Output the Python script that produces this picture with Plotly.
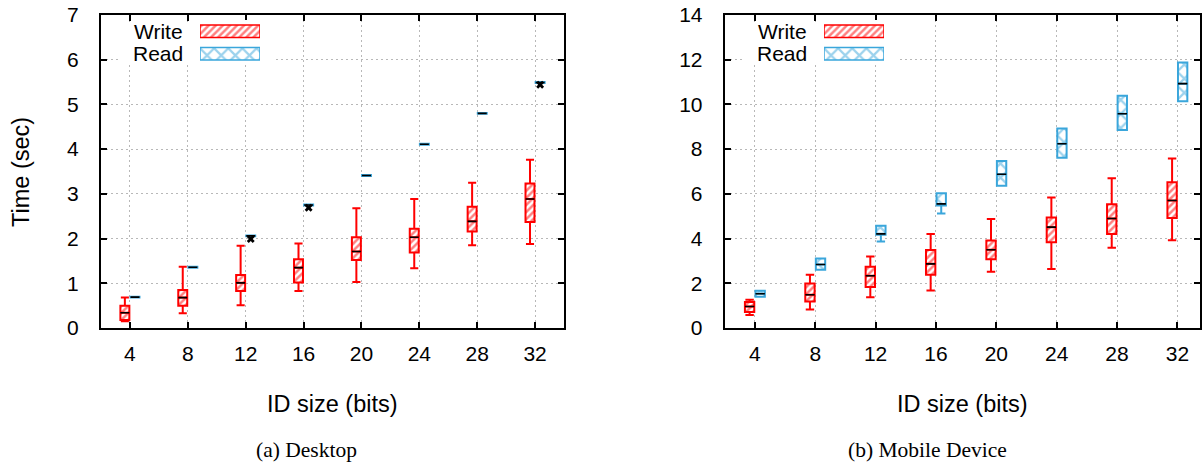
import plotly.graph_objects as go

# ---------------- data ----------------
ID_SIZES = [4, 8, 12, 16, 20, 24, 28, 32]

# (a) Desktop
DESK_WRITE_LO = [0.15, 0.33, 0.51, 0.83, 1.03, 1.335, 1.85, 1.88]
DESK_WRITE_Q1 = [0.18, 0.50, 0.83, 1.02, 1.52, 1.69, 2.16, 2.37]
DESK_WRITE_MED = [0.34, 0.68, 1.01, 1.35, 1.71, 2.03, 2.385, 2.885]
DESK_WRITE_Q3 = [0.50, 0.85, 1.185, 1.54, 2.03, 2.22, 2.71, 3.23]
DESK_WRITE_HI = [0.68, 1.37, 1.84, 1.89, 2.68, 2.885, 3.25, 3.76]

DESK_READ_Q1 = [0.68, 1.35, 2.05, 2.74, 3.40, 4.10, 4.79, 5.48]
DESK_READ_MED = [0.69, 1.36, 2.06, 2.75, 3.41, 4.11, 4.80, 5.49]
DESK_READ_Q3 = [0.70, 1.37, 2.07, 2.76, 3.42, 4.12, 4.81, 5.50]
DESK_READ_OUT_X = [12, 16, 32]
DESK_READ_OUT_Y = [1.99, 2.69, 5.44]

# (b) Mobile Device
MOB_WRITE_LO = [0.58, 0.83, 1.37, 1.68, 2.52, 2.64, 3.59, 3.93]
MOB_WRITE_Q1 = [0.715, 1.19, 1.83, 2.38, 3.08, 3.84, 4.20, 4.92]
MOB_WRITE_MED = [0.965, 1.49, 2.34, 2.87, 3.50, 4.51, 4.90, 5.70]
MOB_WRITE_Q3 = [1.16, 1.99, 2.74, 3.49, 3.91, 4.94, 5.54, 6.52]
MOB_WRITE_HI = [1.26, 2.38, 3.20, 4.21, 4.87, 5.84, 6.70, 7.58]

MOB_READ_LO = [1.40, 2.60, 3.87, 5.12, 6.36, 7.62, 8.86, 10.14]
MOB_READ_Q1 = [1.40, 2.60, 4.17, 5.48, 6.36, 7.62, 8.86, 10.14]
MOB_READ_MED = [1.53, 2.84, 4.21, 5.55, 6.88, 8.24, 9.58, 10.93]
MOB_READ_Q3 = [1.67, 3.11, 4.57, 6.03, 7.47, 8.92, 10.39, 11.87]
MOB_READ_HI = [1.67, 3.11, 4.57, 6.03, 7.47, 8.92, 10.39, 11.87]

SERIES_NAMES = ["Write", "Read"]
CAPTIONS = ["(a) Desktop", "(b) Mobile Device"]
X_TITLE = "ID size (bits)"
Y_TITLE = "Time (sec)"

# ---------------- style / layout ----------------
W, H = 1202, 464
RED = "#FF0000"
BLUE = "#3AA6DB"
SHIFT = 0.35
BOXW = 0.62
SANS = "Liberation Sans, Arial, Helvetica, sans-serif"
SERIF = "Liberation Serif, Times New Roman, serif"
FS = 21
TITLE_FS = 23.5
CAP_FS = 21.5

PLOT_TOP, PLOT_BOT = 15, 328
PANELS = [  # (left px, right px, x range, y range)
    (101, 564, [2, 34], [0, 7]),
    (724.7, 1200, [2, 33.5], [0, 14]),
]

WRITE_PAT = dict(shape="/", fgcolor=RED, bgcolor="white", size=5, solidity=0.5)
READ_PAT = dict(shape="x", fgcolor=BLUE, bgcolor="white", size=10, solidity=0.4)

fig = go.Figure()


def add_box_series(xa, ya, lo, q1, med, q3, hi, color, pattern, shift):
    xs = [c + shift for c in ID_SIZES]
    fig.add_trace(go.Bar(
        x=xs, y=[b - a for a, b in zip(q1, q3)], base=q1, width=BOXW,
        marker=dict(color="white", line=dict(width=0), pattern=pattern),
        xaxis=xa, yaxis=ya, showlegend=False, hoverinfo="skip"))
    fig.add_trace(go.Box(
        x=xs, q1=q1, median=med, q3=q3, lowerfence=lo, upperfence=hi,
        width=BOXW, whiskerwidth=0.9, boxpoints=False,
        line=dict(color=color, width=2), fillcolor="rgba(0,0,0,0)",
        xaxis=xa, yaxis=ya, showlegend=False))
    fig.add_trace(go.Box(
        x=xs, q1=med, median=med, q3=med, lowerfence=med, upperfence=med,
        width=BOXW, whiskerwidth=0.01, boxpoints=False,
        line=dict(color="black", width=1.6), fillcolor="rgba(0,0,0,0)",
        xaxis=xa, yaxis=ya, showlegend=False, hoverinfo="skip"))


# Desktop
add_box_series("x", "y", DESK_WRITE_LO, DESK_WRITE_Q1, DESK_WRITE_MED, DESK_WRITE_Q3,
               DESK_WRITE_HI, RED, WRITE_PAT, -SHIFT)
add_box_series("x", "y", DESK_READ_Q1, DESK_READ_Q1, DESK_READ_MED, DESK_READ_Q3,
               DESK_READ_Q3, BLUE, READ_PAT, SHIFT)
fig.add_trace(go.Scatter(
    x=[c + SHIFT for c in DESK_READ_OUT_X], y=DESK_READ_OUT_Y, mode="markers",
    marker=dict(symbol="x", size=7, color="black"),
    xaxis="x", yaxis="y", showlegend=False))

# Mobile
add_box_series("x2", "y2", MOB_WRITE_LO, MOB_WRITE_Q1, MOB_WRITE_MED, MOB_WRITE_Q3,
               MOB_WRITE_HI, RED, WRITE_PAT, -SHIFT)
add_box_series("x2", "y2", MOB_READ_LO, MOB_READ_Q1, MOB_READ_MED, MOB_READ_Q3,
               MOB_READ_HI, BLUE, READ_PAT, SHIFT)

# legend keys on small hidden axes
for xa, ya in (("x3", "y3"), ("x4", "y4")):
    fig.add_trace(go.Bar(
        orientation="h", y=[1], x=[1], base=0, width=0.56,
        marker=dict(color="white", line=dict(color=RED, width=1.5), pattern=WRITE_PAT),
        xaxis=xa, yaxis=ya, showlegend=False, hoverinfo="skip"))
    fig.add_trace(go.Bar(
        orientation="h", y=[0], x=[1], base=0, width=0.56,
        marker=dict(color="white", line=dict(color=BLUE, width=1.5), pattern=READ_PAT),
        xaxis=xa, yaxis=ya, showlegend=False, hoverinfo="skip"))

YDOM = [1 - PLOT_BOT / H, 1 - PLOT_TOP / H]
common_x = dict(
    tickmode="array", tickvals=ID_SIZES, ticktext=[str(v) for v in ID_SIZES],
    showline=True, linecolor="black", linewidth=2, mirror="ticks",
    ticks="inside", ticklen=6, tickwidth=1.5, tickcolor="black",
    showgrid=True, gridcolor="#b8b8b8", gridwidth=1, griddash="2px,3px",
    zeroline=False, tickfont=dict(family=SANS, size=FS, color="black"),
    ticklabelstandoff=6, automargin=False, fixedrange=True)
common_y = dict(
    showline=True, linecolor="black", linewidth=2, mirror="ticks",
    ticks="inside", ticklen=6, tickwidth=1.5, tickcolor="black",
    showgrid=True, gridcolor="#b8b8b8", gridwidth=1, griddash="2px,3px",
    zeroline=False, tickfont=dict(family=SANS, size=FS, color="black"),
    ticklabelstandoff=16, automargin=False, fixedrange=True)

hidden = dict(visible=False, showgrid=False, zeroline=False, fixedrange=True,
              automargin=False)
LEG_Y = [1 - 65 / H, 1 - 20 / H]

(l1, r1, xr1, yr1), (l2, r2, xr2, yr2) = PANELS
fig.update_layout(
    width=W, height=H, margin=dict(l=0, r=0, t=0, b=0, autoexpand=False),
    paper_bgcolor="white", plot_bgcolor="white",
    barmode="overlay", boxmode="overlay", showlegend=False,
    xaxis=dict(common_x, domain=[l1 / W, r1 / W], range=xr1, anchor="y"),
    yaxis=dict(common_y, domain=YDOM, range=yr1, dtick=1, anchor="x"),
    xaxis2=dict(common_x, domain=[l2 / W, r2 / W], range=xr2, anchor="y2"),
    yaxis2=dict(common_y, domain=YDOM, range=yr2, dtick=2, anchor="x2"),
    xaxis3=dict(hidden, domain=[200 / W, 260 / W], range=[0, 1], anchor="y3"),
    yaxis3=dict(hidden, domain=LEG_Y, range=[-0.5, 1.5], anchor="x3"),
    xaxis4=dict(hidden, domain=[824 / W, 884 / W], range=[0, 1], anchor="y4"),
    yaxis4=dict(hidden, domain=LEG_Y, range=[-0.5, 1.5], anchor="x4"),
)


def px2data(panel, px, py):
    left, right, xr, yr = panel
    dx = xr[0] + (px - left) / (right - left) * (xr[1] - xr[0])
    dy = yr[0] + (PLOT_BOT - py) / (PLOT_BOT - PLOT_TOP) * (yr[1] - yr[0])
    return dx, dy


# white legend backgrounds hiding the grid (between grid and traces)
for panel, (xref, yref), (bx0, bx1) in zip(PANELS, (("x", "y"), ("x2", "y2")),
                                          ((118, 273), (743, 897))):
    x0, y0 = px2data(panel, bx0, 65)
    x1, y1 = px2data(panel, bx1, 22)
    fig.add_shape(type="rect", xref=xref, yref=yref, layer="between",
                  x0=x0, x1=x1, y0=y0, y1=y1,
                  fillcolor="white", line=dict(width=0))

ann = []
for xr in (185, 809):
    for name, yc in zip(SERIES_NAMES, (31.5, 53.5)):
        ann.append(dict(text=name, x=xr / W, y=1 - yc / H, xref="paper", yref="paper",
                        xanchor="right", yanchor="middle", showarrow=False,
                        font=dict(family=SANS, size=FS, color="black")))
for xc in (332.5, 962):
    ann.append(dict(text=X_TITLE, x=xc / W, y=1 - 404 / H, xref="paper", yref="paper",
                    xanchor="center", yanchor="middle", showarrow=False,
                    font=dict(family=SANS, size=TITLE_FS, color="black")))
ann.append(dict(text=Y_TITLE, x=21 / W, y=1 - 172 / H, xref="paper", yref="paper",
                xanchor="center", yanchor="middle", showarrow=False, textangle=-90,
                font=dict(family=SANS, size=TITLE_FS, color="black")))
for cap, xc in zip(CAPTIONS, (306, 927)):
    ann.append(dict(text=cap, x=xc / W, y=1 - 450 / H, xref="paper", yref="paper",
                    xanchor="center", yanchor="middle", showarrow=False,
                    font=dict(family=SERIF, size=CAP_FS, color="black")))
fig.update_layout(annotations=ann)

fig.write_html(
    "out.html",
    config={"displayModeBar": False},
    post_script="document.body.style.margin='0';document.body.style.padding='0';",
)
